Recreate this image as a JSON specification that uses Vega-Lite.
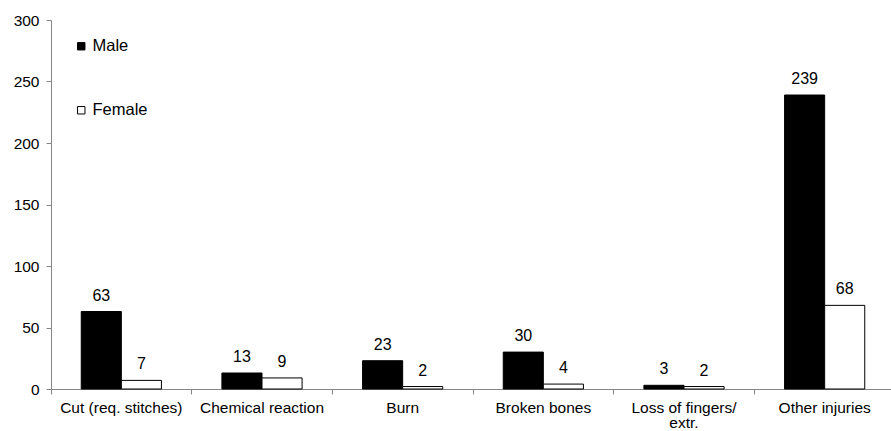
{
  "$schema": "https://vega.github.io/schema/vega-lite/v6.json",
  "autosize": "none",
  "width": 844,
  "height": 369,
  "padding": {"left": 51, "top": 20, "right": -4, "bottom": 42},
  "background": "white",
  "config": {
    "font": "Liberation Sans",
    "view": {"stroke": null},
    "axis": {"domainColor": "#868686", "tickColor": "#868686", "labelColor": "#000000", "labelFont": "Liberation Sans", "labelFontSize": 15.5, "grid": false}
  },
  "data": {
    "values": [
      {"injury": "Cut (req. stitches)", "sex": "Male", "count": 63},
      {"injury": "Cut (req. stitches)", "sex": "Female", "count": 7},
      {"injury": "Chemical reaction", "sex": "Male", "count": 13},
      {"injury": "Chemical reaction", "sex": "Female", "count": 9},
      {"injury": "Burn", "sex": "Male", "count": 23},
      {"injury": "Burn", "sex": "Female", "count": 2},
      {"injury": "Broken bones", "sex": "Male", "count": 30},
      {"injury": "Broken bones", "sex": "Female", "count": 4},
      {"injury": "Loss of fingers/ extr.", "sex": "Male", "count": 3},
      {"injury": "Loss of fingers/ extr.", "sex": "Female", "count": 2},
      {"injury": "Other injuries", "sex": "Male", "count": 239},
      {"injury": "Other injuries", "sex": "Female", "count": 68}
    ]
  },
  "encoding": {
    "x": {
      "field": "injury", "type": "nominal", "sort": null,
      "scale": {"paddingInner": 0.43, "paddingOuter": 0.215},
      "axis": {
        "title": null, "labelAngle": 0, "bandPosition": -0.377, "tickSize": 5, "labelPadding": 6, "labelLineHeight": 15.5,
        "labelExpr": "datum.label == 'Loss of fingers/ extr.' ? ['Loss of fingers/', 'extr.'] : datum.label"
      }
    },
    "xOffset": {"field": "sex", "type": "nominal", "sort": ["Male", "Female"]},
    "y": {
      "field": "count", "type": "quantitative",
      "scale": {"domain": [0, 300]},
      "axis": {"title": null, "values": [0, 50, 100, 150, 200, 250, 300], "tickSize": 5, "labelPadding": 7}
    }
  },
  "layer": [
    {
      "mark": {"type": "bar", "stroke": "#000000", "strokeWidth": 1},
      "encoding": {
        "fill": {
          "field": "sex", "type": "nominal",
          "scale": {"domain": ["Male", "Female"], "range": ["#000000", "#ffffff"]},
          "legend": {
            "title": null, "orient": "none", "legendX": 22, "legendY": 18,
            "symbolType": "square", "symbolSize": 55, "symbolStrokeColor": "#000000", "symbolStrokeWidth": 1,
            "labelFontSize": 16.5, "labelFont": "Liberation Sans", "rowPadding": 47, "labelOffset": 3
          }
        }
      }
    },
    {
      "mark": {"type": "text", "dy": -16, "fontSize": 16, "font": "Liberation Sans", "color": "#000000"},
      "encoding": {"text": {"field": "count", "type": "quantitative"}}
    }
  ]
}
